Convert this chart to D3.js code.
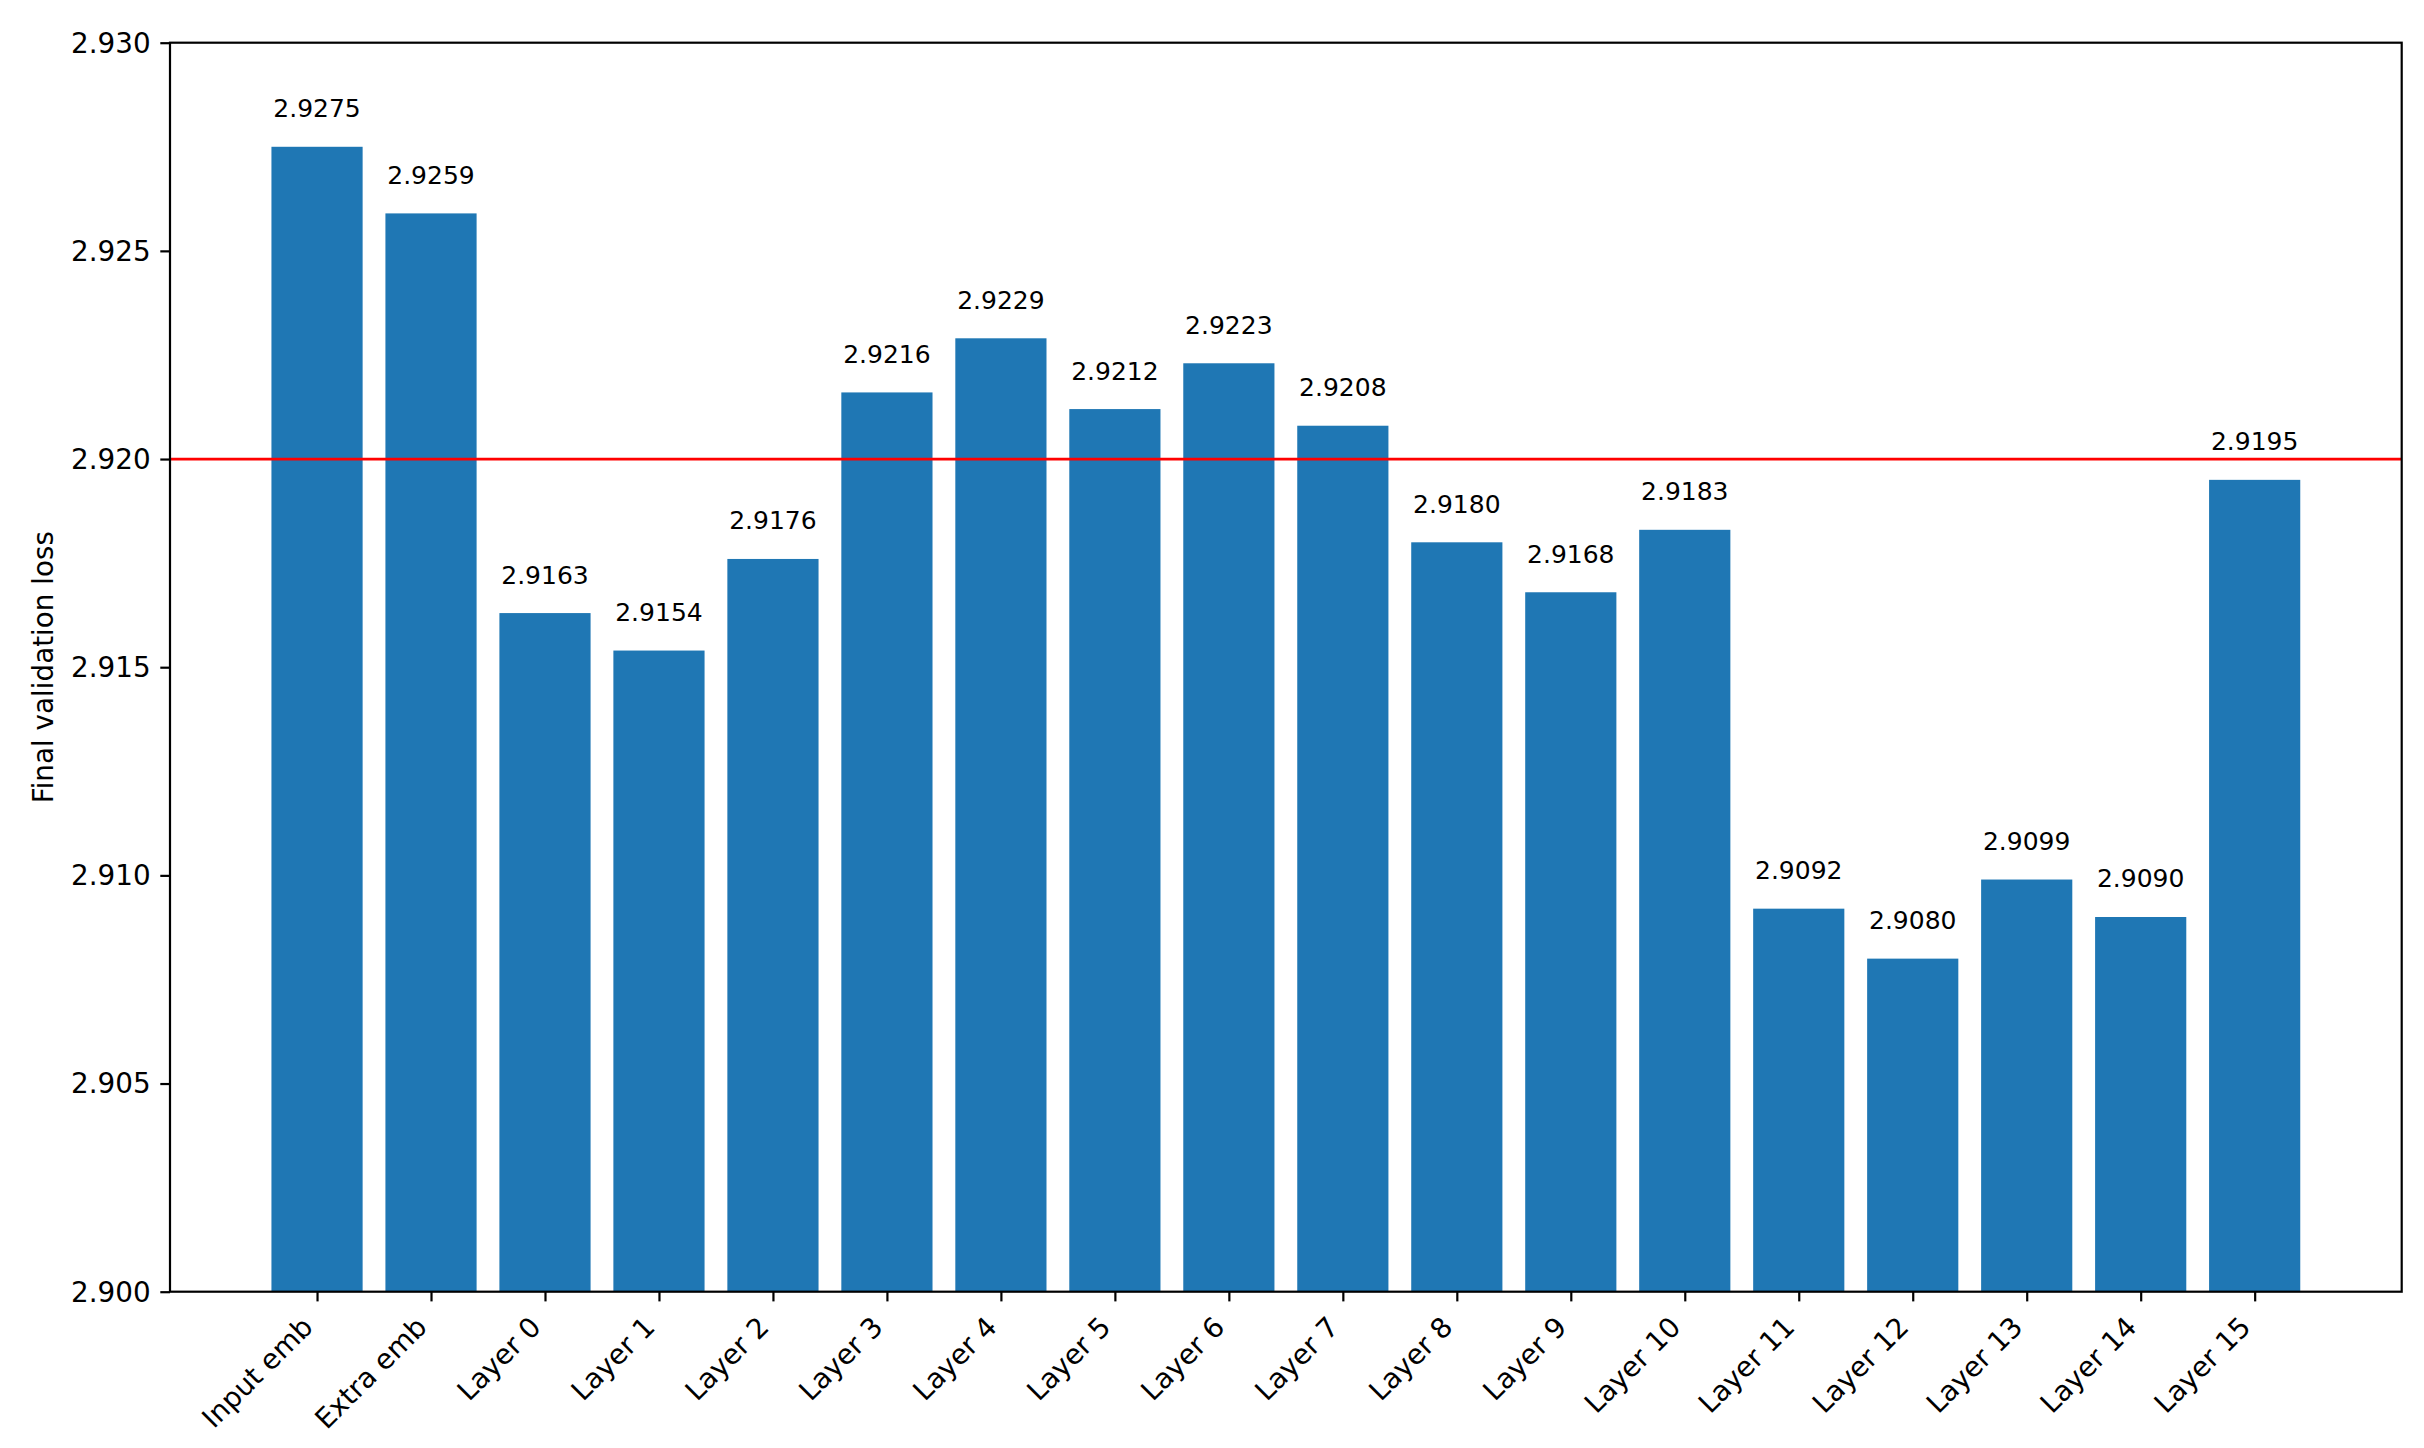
<!DOCTYPE html>
<html>
<head>
<meta charset="utf-8">
<script src="https://cdn.jsdelivr.net/npm/d3@7"></script>
<style>
    body { margin: 0; background: white; }
    svg { display: block; }
    text { font-family: "DejaVu Sans", sans-serif; fill: black; }
</style>
</head>
<body>
<div id="chart"></div>
<script>
var layer_names = ["Input emb", "Extra emb", "Layer 0", "Layer 1", "Layer 2", "Layer 3", "Layer 4",
    "Layer 5", "Layer 6", "Layer 7", "Layer 8", "Layer 9", "Layer 10", "Layer 11", "Layer 12",
    "Layer 13", "Layer 14", "Layer 15"]
var val_loss = [2.9275, 2.9259, 2.9163, 2.9154, 2.9176, 2.9216, 2.9229, 2.9212, 2.9223, 2.9208,
    2.9180, 2.9168, 2.9183, 2.9092, 2.9080, 2.9099, 2.9090, 2.9195]
var y_ticks = [2.900, 2.905, 2.910, 2.915, 2.920, 2.925, 2.930]
var baseline_loss = 2.920
var y_label = "Final validation loss"

function draw_chart(){
    var width = 2424
    var height = 1448
    var margin = {left: 170, right: 22.3, top: 42.7, bottom: 156.3}
    var plot_w = width - margin.left - margin.right
    var plot_h = height - margin.top - margin.bottom

    var tick_len = 9.7
    var tick_pad = 9.7
    var spine_w = 2.2
    var bar_w = 0.8
    var tick_font = 27.8
    var label_font = 25

    var svg = d3.select("#chart").append("svg")
        .attr("width", width)
        .attr("height", height)
    var container = svg.append("g")
        .attr("transform", "translate(" + margin.left + "," + margin.top + ")")

    // matplotlib style x range: bars +/- 0.4 plus 5% margins
    var n = layer_names.length
    var x_lo = -bar_w/2, x_hi = n - 1 + bar_w/2
    var pad = (x_hi - x_lo)*0.05
    var x = d3.scaleLinear()
        .domain([x_lo - pad, x_hi + pad])
        .range([0, plot_w])
    var y = d3.scaleLinear()
        .domain([y_ticks[0], y_ticks[y_ticks.length-1]])
        .range([plot_h, 0])

    // bars
    container.selectAll(".bar")
        .data(val_loss).enter()
        .append("rect")
        .attr("class", "bar")
        .attr("x", function(d, i){ return x(i - bar_w/2) })
        .attr("width", function(d, i){ return x(i + bar_w/2) - x(i - bar_w/2) })
        .attr("y", function(d){ return y(d) })
        .attr("height", function(d){ return plot_h - y(d) })
        .attr("fill", "#1f77b4")

    // reference line
    container.append("line")
        .attr("x1", 0)
        .attr("x2", plot_w)
        .attr("y1", y(baseline_loss))
        .attr("y2", y(baseline_loss))
        .attr("stroke", "red")
        .attr("stroke-width", 2.78)

    // value labels
    container.selectAll(".val_label")
        .data(val_loss).enter()
        .append("text")
        .attr("class", "val_label")
        .text(function(d){ return d.toFixed(4) })
        .attr("x", function(d, i){ return x(i) })
        .attr("y", function(d){ return y(d) - 29.5 })
        .attr("text-anchor", "middle")
        .style("font-size", label_font + "px")

    // y axis
    var y_axis = d3.axisLeft(y)
        .tickValues(y_ticks)
        .tickFormat(d3.format(".3f"))
        .tickSize(tick_len)
        .tickPadding(tick_pad)
    var y_g = container.append("g").call(y_axis)
    y_g.select(".domain").remove()
    y_g.selectAll(".tick line").attr("stroke-width", spine_w)
    y_g.selectAll(".tick text")
        .attr("font-family", "DejaVu Sans")
        .style("font-size", tick_font + "px")
        .attr("dy", "0.34em")

    // x axis
    var x_axis = d3.axisBottom(x)
        .tickValues(d3.range(n))
        .tickFormat(function(i){ return layer_names[i] })
        .tickSize(tick_len)
    var x_g = container.append("g")
        .attr("transform", "translate(0," + plot_h + ")")
        .call(x_axis)
    x_g.select(".domain").remove()
    x_g.selectAll(".tick line").attr("stroke-width", spine_w)
    x_g.selectAll(".tick text")
        .attr("font-family", "DejaVu Sans")
        .style("font-size", tick_font + "px")
        .attr("text-anchor", "end")
        .attr("x", 0)
        .attr("y", 0)
        .attr("dy", 0)
        .attr("transform", "translate(-3,37) rotate(-45)")

    // frame
    container.append("rect")
        .attr("x", 0)
        .attr("y", 0)
        .attr("width", plot_w)
        .attr("height", plot_h)
        .attr("fill", "none")
        .attr("stroke", "black")
        .attr("stroke-width", spine_w)

    // y label
    svg.append("text")
        .text(y_label)
        .attr("transform", "translate(53," + (margin.top + plot_h/2) + ") rotate(-90)")
        .attr("text-anchor", "middle")
        .style("font-size", tick_font + "px")
}

draw_chart()
</script>
</body>
</html>
